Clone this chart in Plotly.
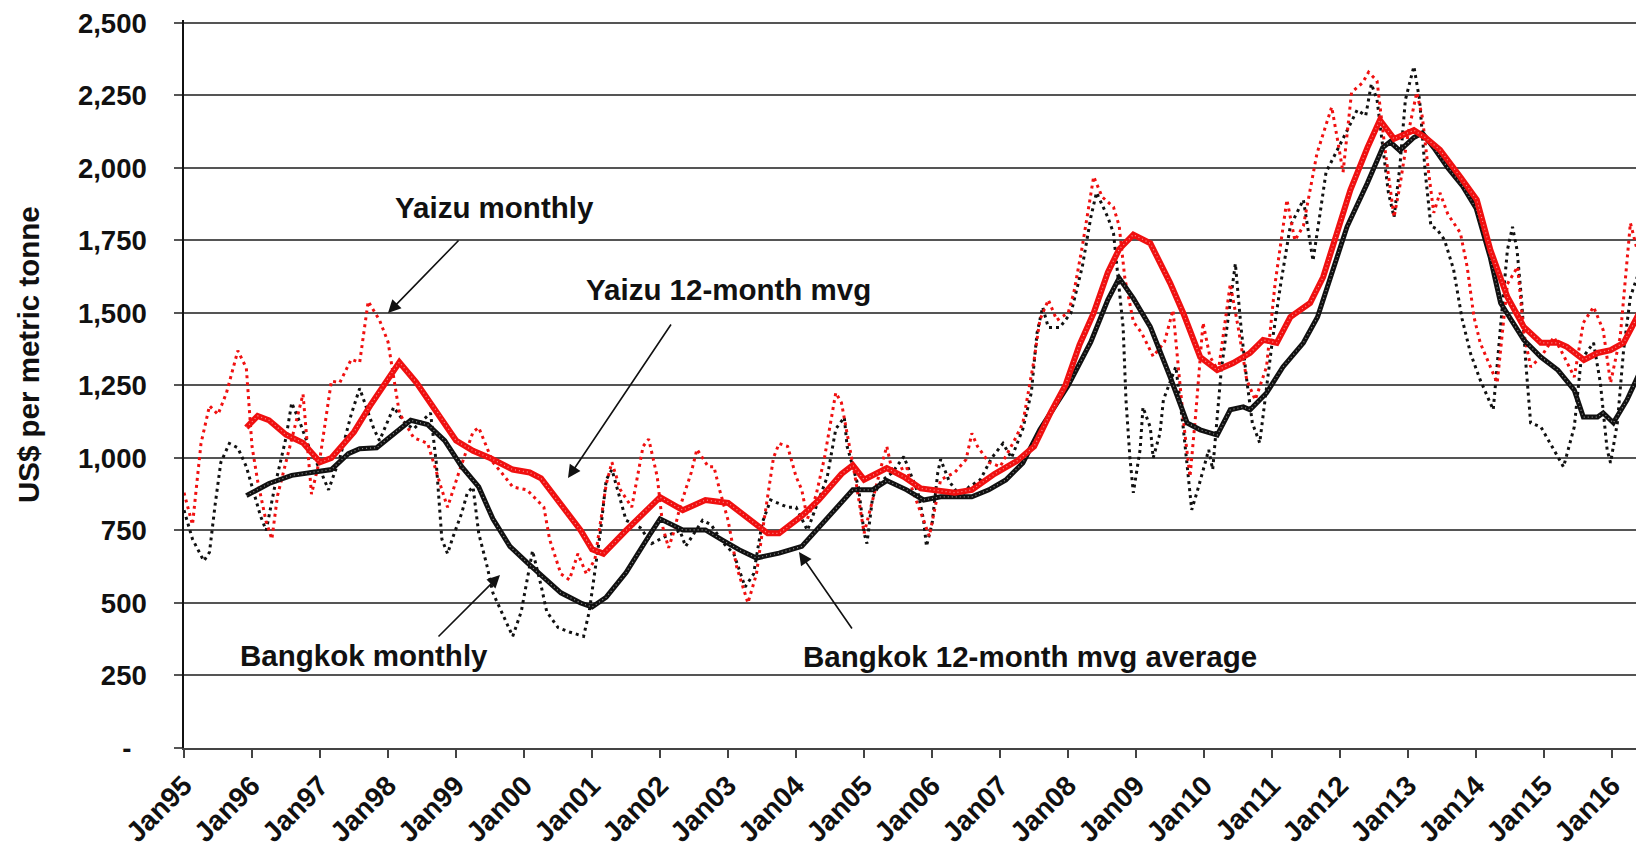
import numpy as np
import pandas as pd
import plotly.graph_objects as go

# ---- data: (months since Jan 1995, US$ per metric tonne) ----
yaizu_monthly = [
    (0, 880), (1.5, 770), (3, 1050), (4.5, 1180), (6, 1150), (7.5, 1225), (9.5, 1370), (11, 1310), (12, 1040),
    (13, 920), (14.5, 780), (15.5, 720), (16.5, 870), (18, 990), (19.5, 1100), (21, 1220), (22.5, 875), (24, 1000),
    (26, 1265), (27.5, 1260), (29.5, 1340), (31, 1330), (32.5, 1540), (34.5, 1475), (36, 1400), (37, 1270),
    (38, 1155), (40.5, 1070), (43, 1050), (45.5, 890), (46.5, 830), (48.5, 950), (51, 1090), (52, 1105),
    (54.5, 985), (56, 950), (58, 900), (60.5, 890), (63.5, 830), (64.5, 720), (66.5, 600), (68, 580), (69.5, 670),
    (71, 600), (72.5, 650), (74.5, 910), (75.5, 985), (77, 890), (79, 830), (81, 1040), (82, 1065), (83.5, 935),
    (84.5, 760), (85.5, 690), (86.5, 750), (87.5, 830), (89.5, 950), (90.5, 1030), (92.5, 970), (93.5, 970),
    (94.5, 890), (96, 785), (97.5, 625), (99.5, 500), (101, 600), (102, 740), (104, 1000), (105, 1050),
    (106.5, 1040), (108, 935), (109, 890), (110, 790), (111.5, 870), (113, 1000), (115, 1225), (116, 1190),
    (118.5, 925), (120, 740), (121, 820), (123, 970), (124, 1040), (125, 950), (127.5, 970), (128.5, 890),
    (130.5, 785), (131.5, 730), (133.5, 925), (136, 950), (138, 995), (139, 1085), (140, 1040), (142, 985),
    (144, 970), (146.5, 1060), (148, 1120), (149, 1225), (150, 1340), (151, 1475), (152.5, 1545), (154, 1475),
    (156, 1500), (157, 1570), (158.5, 1730), (160.5, 1970), (162, 1900), (164, 1865), (165, 1800), (166, 1620),
    (167.5, 1470), (169, 1430), (171, 1350), (173, 1400), (174.5, 1510), (175.5, 1300), (176.5, 1100),
    (177.5, 935), (178.5, 1150), (179.8, 1466), (181, 1350), (182.5, 1300), (184.6, 1600), (186, 1450),
    (187.5, 1270), (189, 1200), (191, 1314), (192.5, 1600), (194.6, 1890), (196, 1750), (197.5, 1800),
    (199.9, 2050), (202.5, 2210), (203.5, 2100), (204.5, 1985), (206, 2260), (208, 2295), (209, 2330),
    (210.5, 2300), (212, 2050), (213.5, 1830), (214.5, 1935), (216, 2120), (217.5, 2260), (218.5, 2175),
    (219.5, 2000), (220.5, 1845), (221.6, 1914), (223, 1840), (225.2, 1776), (226.4, 1659), (227.6, 1486),
    (228.7, 1397), (230.5, 1314), (231.7, 1259), (233.5, 1600), (235.3, 1659), (236.4, 1431), (237.6, 1314),
    (239.5, 1350), (241.7, 1417), (243.5, 1350), (245.3, 1279), (246.9, 1466), (248.7, 1521), (250.4, 1441),
    (251.7, 1259), (253.4, 1417), (255.2, 1810), (256.4, 1717), (257.6, 1659),
]

bangkok_monthly = [
    (0, 820), (1.5, 720), (3.5, 645), (4.5, 675), (5.5, 840), (6.5, 985), (8, 1050), (9.5, 1035), (11, 970),
    (12.5, 870), (13.5, 800), (14.5, 750), (16, 900), (18, 1070), (19, 1190), (20.5, 1120), (22, 1040), (24, 960),
    (25.5, 890), (27.5, 1000), (29.5, 1150), (31, 1240), (33.5, 1100), (34.5, 1060), (37, 1175), (39, 1120),
    (40.5, 1100), (43.5, 1155), (44.5, 985), (45.5, 720), (46.5, 670), (47.5, 730), (49, 810), (50, 880),
    (51, 900), (52, 740), (53.5, 625), (54.5, 535), (56, 470), (58, 385), (59.5, 470), (60.5, 580), (61.5, 680),
    (63, 560), (64, 470), (66, 415), (68, 400), (70.5, 385), (71.5, 470), (73.5, 750), (74.5, 925), (75.5, 960),
    (77, 850), (78, 785), (80.5, 760), (82.5, 705), (85, 730), (87.5, 750), (88.5, 695), (91.5, 785), (93, 770),
    (95, 710), (97, 670), (99, 555), (100.5, 600), (102, 775), (103.5, 855), (106.5, 830), (108, 830), (110, 750),
    (111.5, 830), (113.5, 935), (115, 1100), (116.5, 1140), (117, 1040), (119, 900), (120, 740), (120.5, 705),
    (121.5, 865), (123, 920), (125, 950), (127, 1005), (129.5, 880), (130.5, 785), (131, 695), (132, 775),
    (133, 950), (133.5, 995), (135, 920), (137, 865), (138.5, 900), (140.5, 925), (142.5, 1000), (144.5, 1050),
    (146, 1000), (148, 1100), (149.5, 1225), (150.5, 1430), (151.5, 1520), (152.5, 1450), (154.5, 1450),
    (156.5, 1500), (158.5, 1660), (160, 1830), (161, 1915), (163, 1830), (164, 1775), (165, 1590), (165.7, 1450),
    (166.2, 1200), (166.9, 1000), (167.5, 880), (168.7, 1030), (169.2, 1175), (170.5, 1105), (171, 1000),
    (172.2, 1085), (172.8, 1200), (175, 1315), (176.3, 1105), (177.8, 821), (179, 900), (180.8, 1028),
    (181.5, 960), (183, 1300), (185.5, 1670), (186.5, 1450), (187.5, 1270), (188.5, 1120), (189.8, 1052),
    (191, 1250), (192, 1400), (193.5, 1600), (195.2, 1800), (197.5, 1890), (199.2, 1680), (200.5, 1850),
    (201.5, 1985), (205.5, 2140), (207, 2200), (208.5, 2180), (209.5, 2290), (210.5, 2235), (211.5, 2070),
    (212.5, 1915), (213.5, 1830), (214.5, 2000), (215.5, 2235), (217, 2350), (218, 2235), (219, 1985),
    (220, 1800), (221, 1790), (222.4, 1752), (224, 1650), (225.5, 1480), (227, 1360), (228.7, 1269), (231, 1166),
    (232.5, 1500), (233.5, 1717), (234.4, 1797), (235.2, 1717), (236, 1545), (236.8, 1314), (237.6, 1121),
    (239.4, 1107), (241.7, 1028), (243.4, 969), (245.3, 1107), (246.5, 1338), (248.7, 1397), (249.9, 1259),
    (251.1, 1028), (251.7, 983), (252.9, 1121), (254, 1372), (255.2, 1555), (256.4, 1624), (257.6, 1579),
]

yaizu_mvg = [
    (11, 1105), (13, 1145), (15, 1130), (18, 1080), (21, 1052), (24, 985), (26, 1000), (30, 1090), (33, 1185),
    (36, 1275), (38, 1330), (41, 1260), (45, 1150), (48, 1060), (51, 1025), (54, 1000), (58, 960), (61, 950),
    (63, 930), (66, 850), (70, 750), (72, 685), (74, 670), (78, 750), (82, 830), (84, 865), (88, 820), (92, 855),
    (96, 845), (99, 800), (103, 740), (105, 740), (109, 800), (112, 855), (116, 945), (118, 975), (120, 925),
    (124, 965), (127, 935), (130, 895), (136, 880), (139, 890), (143, 945), (147, 990), (150, 1040), (153, 1160),
    (155.5, 1250), (158, 1390), (160.5, 1500), (163, 1640), (165, 1720), (167.5, 1770), (170.5, 1740),
    (174, 1603), (176.3, 1500), (179.3, 1348), (182.3, 1303), (185.1, 1327), (188.1, 1362), (190.4, 1407),
    (192.8, 1397), (195.2, 1486), (198.7, 1534), (201, 1624), (203.5, 1776), (205.8, 1924), (208.8, 2070),
    (211, 2165), (213.5, 2100), (217, 2130), (219, 2105), (221.6, 2062), (225.2, 1969), (228.1, 1890),
    (230.5, 1717), (233.5, 1555), (236.4, 1452), (239.4, 1397), (242.4, 1397), (244, 1383), (247, 1338),
    (249.4, 1362), (251.7, 1372), (254, 1397), (256.4, 1486), (257.6, 1545),
]

bangkok_mvg = [
    (11, 870), (15, 912), (19, 940), (23, 952), (26, 960), (29, 1015), (31, 1032), (34, 1035), (37, 1085),
    (40, 1130), (43, 1115), (46, 1060), (49, 970), (52, 900), (54.5, 790), (57.5, 695), (60.5, 640), (63.5, 585),
    (66.5, 535), (70, 500), (72, 486), (74.5, 520), (78, 605), (82, 730), (84, 790), (88, 752), (92, 752),
    (95, 717), (98, 683), (101, 655), (105, 672), (109, 695), (112, 760), (116, 845), (118, 890), (121.5, 890),
    (124, 922), (127.5, 890), (130.5, 855), (133.5, 866), (136.5, 866), (139, 866), (142, 890), (145, 924),
    (148, 983), (151, 1097), (156, 1250), (160, 1400), (163, 1545), (165, 1620), (167.5, 1550), (170.5, 1452),
    (174, 1279), (177, 1121), (179.3, 1097), (182.3, 1079), (184.6, 1166), (186.9, 1176), (188.1, 1166),
    (191, 1224), (193.9, 1314), (197.5, 1397), (200, 1486), (202.3, 1624), (205.2, 1797), (208.8, 1948),
    (211.5, 2070), (212.8, 2090), (214.5, 2060), (217, 2105), (218.5, 2120), (220.5, 2070), (223, 2000),
    (225.5, 1940), (228, 1860), (230.5, 1690), (232.3, 1534), (236.4, 1407), (239.4, 1348), (242.4, 1303),
    (245.3, 1234), (246.9, 1141), (249.4, 1141), (250.4, 1155), (252.2, 1121), (254.6, 1200), (257.6, 1327),
]

y_tick_values = [0, 250, 500, 750, 1000, 1250, 1500, 1750, 2000, 2250, 2500]
y_tick_labels = ["-\u00a0\u00a0", "250", "500", "750", "1,000", "1,250", "1,500", "1,750", "2,000", "2,250", "2,500"]

BASE = pd.Timestamp("1995-01-01")
LAST_MONTH = 257.6
Y_MAX = 2510  # small headroom so the 2,500 gridline sits inside the plot area


def to_dates(months):
    return BASE + pd.to_timedelta(np.asarray(months, dtype=float) * 30.4375, unit="D")


def split(pairs):
    m, v = zip(*pairs)
    return to_dates(m), list(v)


FONT = "Arial, 'Liberation Sans', sans-serif"
RED = "#f01010"
BLACK = "#111111"
GRID = "#555555"

fig = go.Figure()
x, y = split(bangkok_monthly)
fig.add_trace(go.Scatter(x=x, y=y, mode="lines", name="Bangkok monthly",
                         line=dict(color=BLACK, width=3, dash="3px,4px")))
x, y = split(yaizu_monthly)
fig.add_trace(go.Scatter(x=x, y=y, mode="lines", name="Yaizu monthly",
                         line=dict(color=RED, width=3, dash="3px,4px")))
x, y = split(bangkok_mvg)
fig.add_trace(go.Scatter(x=x, y=y, mode="lines", name="Bangkok 12-month mvg average",
                         line=dict(color=BLACK, width=5)))
fig.add_trace(go.Scatter(x=x, y=y, mode="lines", hoverinfo="skip", showlegend=False,
                         line=dict(color="rgba(255,255,255,0.55)", width=1.2, dash="1px,3px")))
x, y = split(yaizu_mvg)
fig.add_trace(go.Scatter(x=x, y=y, mode="lines", name="Yaizu 12-month mvg",
                         line=dict(color=RED, width=6)))
fig.add_trace(go.Scatter(x=x, y=y, mode="lines", hoverinfo="skip", showlegend=False,
                         line=dict(color="rgba(255,255,255,0.55)", width=1.2, dash="1px,3px")))

# page has an 8px body margin; plot area in page pixels:
OFF = 8
L, R, T, B = 184, 1644, 20, 748


def px(xp):
    return (xp - L) / (R - L)


def py(yp):
    return (B - yp) / (B - T)


labels = [
    ("Yaizu monthly", 494, 208),
    ("Yaizu 12-month mvg", 728, 289),
    ("Bangkok monthly", 364, 655),
    ("Bangkok 12-month mvg average", 1030, 656),
]
arrows = [  # (tail_x, tail_y, tip_x, tip_y) in page pixels
    (460, 239, 388, 313),
    (672, 323, 568, 478),
    (437, 638, 500, 575),
    (853, 630, 799, 552),
]
annotations = []
for text, xx, yy in labels:
    annotations.append(dict(text=text, x=px(xx), y=py(yy), xref="paper", yref="paper", showarrow=False,
                            xanchor="center", yanchor="middle",
                            font=dict(family=FONT, size=29.5, color=BLACK, weight="bold")))
for tx, ty, hx, hy in arrows:
    annotations.append(dict(text="", x=px(hx), y=py(hy), xref="paper", yref="paper", showarrow=True,
                            ax=tx - hx, ay=ty - hy, arrowhead=2, arrowsize=1.6, arrowwidth=1.6,
                            arrowcolor=BLACK, standoff=0, startstandoff=0))
annotations.append(dict(text="US$ per metric tonne", x=px(28), y=py(355), xref="paper", yref="paper",
                        showarrow=False, textangle=-90, xanchor="center", yanchor="middle",
                        font=dict(family=FONT, size=29.5, color=BLACK, weight="bold")))

# top gridline (Plotly drops gridlines that sit at the plot edge)
shapes = [dict(type="line", xref="paper", yref="y", x0=0, x1=1,
               y0=y_tick_values[-1], y1=y_tick_values[-1],
               line=dict(color=GRID, width=1.5), layer="below")]

fig.update_layout(
    width=1644, height=845, autosize=False,
    margin=dict(l=L - OFF, r=1644 + OFF - R, t=T - OFF, b=845 + OFF - B, pad=0),
    paper_bgcolor="white", plot_bgcolor="white",
    showlegend=False,
    annotations=annotations,
    shapes=shapes,
    font=dict(family=FONT, color=BLACK),
)
fig.update_xaxes(
    type="date", automargin=False, ticklabeloverflow="allow",
    range=[BASE, to_dates([LAST_MONTH])[0]],
    tick0="1995-01-01", dtick="M12", tickformat="%b%y",
    tickangle=-45,
    tickfont=dict(family=FONT, size=28, color=BLACK, weight="bold"),
    ticks="outside", ticklen=8, tickwidth=1.5, tickcolor="#444",
    showgrid=False, showline=True, linecolor="#444", linewidth=2,
    zeroline=False,
)
fig.update_yaxes(
    automargin=False, ticklabeloverflow="allow",
    range=[0, Y_MAX],
    tickvals=y_tick_values, ticktext=y_tick_labels,
    tickfont=dict(family=FONT, size=27.5, color=BLACK, weight="bold"),
    ticks="outside", ticklen=8, tickwidth=1.5, tickcolor=GRID,
    ticklabelstandoff=22,
    showgrid=True, gridcolor=GRID, gridwidth=1.5,
    showline=True, linecolor=BLACK, linewidth=1.5,
    zeroline=False,
)

fig.write_html("out.html")
